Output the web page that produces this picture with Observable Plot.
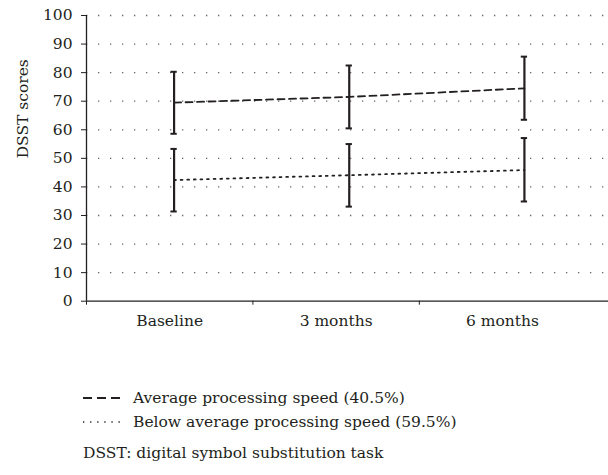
<!DOCTYPE html>
<html><head><meta charset="utf-8">
<script src="https://cdn.jsdelivr.net/npm/d3@7"></script>
<script src="https://cdn.jsdelivr.net/npm/@observablehq/plot@0.6"></script>
<style>
body{margin:0;background:#fff;font-family:"DejaVu Serif",serif;color:#231f20;}
#wrap{position:relative;width:608px;height:475px;}
#wrap svg{display:block;}
.lg{position:absolute;font-size:15.5px;line-height:18px;white-space:nowrap;}
</style></head><body><div id="wrap"></div>
<script>
const categories = ["Baseline", "3 months", "6 months"];
const avgMean = [69.5, 71.5, 74.5];
const avgLow = [58.6, 60.5, 63.5];
const avgHigh = [80.3, 82.5, 85.6];
const belowMean = [42.4, 44.1, 45.9];
const belowLow = [31.4, 33.1, 34.9];
const belowHigh = [53.3, 55.0, 57.1];
const yTicks = [0, 10, 20, 30, 40, 50, 60, 70, 80, 90, 100];
const legendLabels = ["Average processing speed (40.5%)", "Below average processing speed (59.5%)"];
const caption = "DSST: digital symbol substitution task";

// category bands on the axis (Excel-like layout), data at integer positions
const bandW = 0.95, start = -0.5;
const tickPos = categories.map((c, i) => start + bandW * i);
const labelPos = categories.map((c, i) => start + bandW * (i + 0.5));

const mk = (mean, low, high, group) => categories.map((c, i) => ({i, cat: c, mean: mean[i], low: low[i], high: high[i], group}));
const avg = mk(avgMean, avgLow, avgHigh, "avg");
const below = mk(belowMean, belowLow, belowHigh, "below");
const all = avg.concat(below);
const capHalf = 0.018;

const plot = Plot.plot({
  width: 608, height: 340,
  marginLeft: 86, marginRight: 0, marginTop: 15, marginBottom: 39.3,
  style: {fontFamily: "DejaVu Serif", fontSize: "15.5px", color: "#231f20", background: "#fff"},
  x: {type: "linear", domain: [-0.5, 2.48]},
  y: {domain: [0, 100]},
  marks: [
    Plot.ruleY(yTicks.filter(d => d > 0), {stroke: "#666", strokeWidth: 1.3, strokeDasharray: "1.3,10.7"}),
    Plot.axisY({ticks: yTicks, tickSize: 5, tickPadding: 9, label: null, fontSize: 15.5}),
    Plot.axisX({ticks: tickPos, tickSize: 4, tickFormat: () => "", label: null}),
    Plot.text(categories, {x: (d, i) => labelPos[i], y: 0, dy: 20, lineAnchor: "middle", fontSize: 15.5, fill: "#231f20"}),
    Plot.text(["DSST scores"], {frameAnchor: "left", dx: -63, rotate: -90, fontSize: 15.5, fill: "#231f20"}),
    Plot.ruleX([-0.5], {y1: 0, y2: 100, stroke: "#231f20", strokeWidth: 1.3}),
    Plot.ruleY([0], {stroke: "#231f20", strokeWidth: 1.3}),
    Plot.line(avg, {x: "i", y: "mean", stroke: "#231f20", strokeWidth: 1.8, strokeDasharray: "7,4.5"}),
    Plot.line(below, {x: "i", y: "mean", stroke: "#231f20", strokeWidth: 1.8, strokeDasharray: "1.8,4.8"}),
    Plot.ruleX(all, {x: "i", y1: "low", y2: "high", stroke: "#231f20", strokeWidth: 2.2}),
    Plot.ruleY(all, {y: "high", x1: d => d.i - capHalf, x2: d => d.i + capHalf, stroke: "#231f20", strokeWidth: 2}),
    Plot.ruleY(all, {y: "low", x1: d => d.i - capHalf, x2: d => d.i + capHalf, stroke: "#231f20", strokeWidth: 2})
  ]
});
const wrap = document.getElementById("wrap");
wrap.appendChild(plot);

function legendRow(top, dash, width, text) {
  const row = document.createElement("div");
  row.className = "lg";
  row.style.left = "83px";
  row.style.top = top + "px";
  row.innerHTML = `<svg width="40" height="18" style="display:inline-block;vertical-align:top;overflow:visible"><line x1="0" x2="37" y1="9" y2="9" stroke="#231f20" stroke-width="${width}" stroke-dasharray="${dash}"/></svg><span style="position:absolute;left:50px;top:0">${text}</span>`;
  wrap.appendChild(row);
}
legendRow(389, "9,5", 2, legendLabels[0]);
legendRow(413, "1.3,5.8", 1.4, legendLabels[1]);
const cap = document.createElement("div");
cap.className = "lg";
cap.style.left = "83px";
cap.style.top = "444px";
cap.textContent = caption;
wrap.appendChild(cap);
</script></body></html>
